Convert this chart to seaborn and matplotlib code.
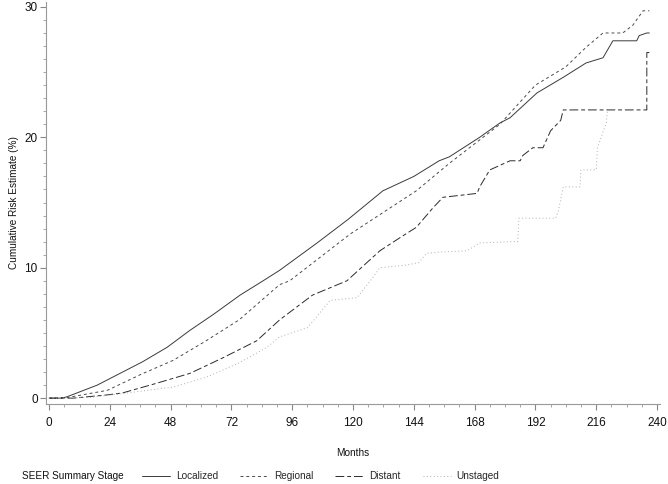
import numpy as np
import pandas as pd
import matplotlib
matplotlib.use('Agg')
import matplotlib.pyplot as plt
from matplotlib.ticker import MultipleLocator
import seaborn as sns

# cumulative risk (%) by SEER summary stage
localized_m = [0, 5, 7, 19, 28, 37, 46.6, 55.6, 64.7, 75.4, 84.5, 91, 105.8, 118, 131.8, 144, 154, 158,
               170, 178, 182, 192.6, 203, 212, 218.7, 222.6, 232, 233, 236, 237]
localized_v = [0, 0, 0.1, 1.0, 1.9, 2.8, 3.9, 5.2, 6.4, 7.9, 9.0, 9.8, 11.9, 13.7, 15.9, 17.0, 18.2, 18.5,
               20.0, 21.1, 21.5, 23.4, 24.6, 25.7, 26.1, 27.4, 27.4, 27.8, 28.0, 28.0]

regional_m = [0, 8, 23, 36, 49, 62, 75, 91, 95, 119, 145, 158, 170, 178, 192, 204, 212, 218.7,
              226.5, 230.5, 234.5, 237]
regional_v = [0, 0.07, 0.6, 1.8, 2.9, 4.4, 6.0, 8.7, 9.0, 12.6, 15.9, 18.0, 19.8, 21.0, 24.0, 25.4, 26.9, 28.0,
              28.0, 28.6, 29.7, 29.7]

distant_m = [0, 9.5, 23, 29, 42.6, 55.6, 68.7, 82, 91, 104, 117.6, 130.6, 138.5, 145, 151.6, 155.5, 169, 170,
             174, 182, 186, 187, 191, 195, 198, 202, 203, 236, 236, 237]
distant_v = [0, 0, 0.25, 0.4, 1.15, 1.9, 3.1, 4.4, 6.0, 7.9, 9.0, 11.3, 12.3, 13.1, 14.6, 15.4, 15.7, 16.2,
             17.5, 18.2, 18.2, 18.6, 19.2, 19.2, 20.5, 21.3, 22.1, 22.1, 26.5, 26.5]

unstaged_m = [0, 16, 29, 49, 62, 75, 86, 91, 102, 111, 121.6, 128, 130.6, 141, 146, 149, 154, 165, 170, 183,
              185, 185.5, 200, 201, 203, 209.6, 210, 216, 216.5, 220, 220.5]
unstaged_v = [0, 0.05, 0.35, 0.85, 1.6, 2.7, 3.9, 4.7, 5.4, 7.5, 7.7, 9.3, 10.0, 10.2, 10.4, 11.1, 11.2, 11.3,
              11.9, 12.0, 12.0, 13.8, 13.8, 14.3, 16.2, 16.2, 17.5, 17.5, 19.2, 21.1, 22.1]

stages = ['Localized', 'Regional', 'Distant', 'Unstaged']
x_ticks = [0, 24, 48, 72, 96, 120, 144, 168, 192, 216, 240]
y_ticks = [0, 10, 20, 30]

frames = []
for name, m, v in zip(stages, [localized_m, regional_m, distant_m, unstaged_m],
                      [localized_v, regional_v, distant_v, unstaged_v]):
    frames.append(pd.DataFrame({'Months': m, 'Risk': v, 'Stage': name}))
df = pd.concat(frames, ignore_index=True)

sns.set_theme(style='ticks')
plt.rcParams['font.family'] = ['Liberation Sans', 'DejaVu Sans']

fig = plt.figure(figsize=(6.68, 4.84), dpi=100)
ax = fig.add_axes([0.069, 0.165, 0.919, 0.831])

palette = {'Localized': '#3a3a3a', 'Regional': '#4a4a4a', 'Distant': '#2a2a2a', 'Unstaged': '#b0b0b0'}
dashes = {'Localized': '', 'Regional': (3, 3), 'Distant': (9, 3, 4, 3), 'Unstaged': (1, 2.5)}
sns.lineplot(data=df, x='Months', y='Risk', hue='Stage', style='Stage', hue_order=stages, style_order=stages,
             palette=palette, dashes=dashes, estimator=None, sort=False, linewidth=0.7, ax=ax)

ax.set_xlim(-1.2, 241.2)
ax.set_ylim(-0.46, 30.38)
ax.set_xticks(x_ticks)
ax.set_yticks(y_ticks)
ax.xaxis.set_minor_locator(MultipleLocator(6))
ax.yaxis.set_minor_locator(MultipleLocator(1))
ax.tick_params(which='major', length=4, width=0.8, color='#888888', labelsize=8.5, labelcolor='#111111')
ax.tick_params(axis='x', which='major', pad=5)
ax.tick_params(axis='y', which='major', pad=2)
ax.tick_params(which='minor', length=2.5, width=0.6, color='#999999')
sns.despine(ax=ax)
for s in ['left', 'bottom']:
    ax.spines[s].set_color('#999999')
    ax.spines[s].set_linewidth(0.8)

ax.set_xlabel('Months', fontsize=7.2, labelpad=14, color='#111111')
ax.set_ylabel('Cumulative Risk Estimate (%)', fontsize=7.2, labelpad=4, color='#111111')

sns.move_legend(ax, 'center', bbox_to_anchor=(0.48, 0.0165), bbox_transform=fig.transFigure, ncol=4,
                title=None, frameon=False, fontsize=7.2, handlelength=2.8, handletextpad=0.6,
                columnspacing=2.2)
fig.text(0.033, 0.0165, 'SEER Summary Stage', fontsize=7.2, va='center', ha='left', color='#111111')

fig.savefig('out.png', dpi=100, facecolor='white')
